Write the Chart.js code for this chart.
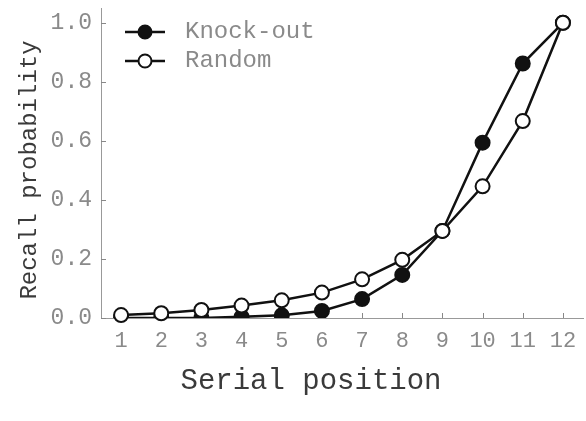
<!DOCTYPE html>
<html><head><meta charset="utf-8">
<script src="https://cdn.jsdelivr.net/npm/chart.js@4/dist/chart.umd.min.js"></script>
<style>html,body{margin:0;padding:0;background:#fff;overflow:hidden}#wrap{width:586px;height:421px}</style>
</head><body><div id="wrap"><canvas id="c"></canvas></div>
<script>
const positions = [1,2,3,4,5,6,7,8,9,10,11,12];
const knockOut = [0.0,0.0,0.0,0.004,0.009,0.024,0.064,0.146,0.295,0.594,0.862,1.0];
const random   = [0.01,0.016,0.027,0.042,0.06,0.086,0.131,0.197,0.295,0.446,0.667,1.0];
const yTicks = [0,0.2,0.4,0.6,0.8,1.0];
const seriesNames = ['Knock-out','Random'];
const xTitle = 'Serial position';
const yTitle = 'Recall probability';

const FONT = '"Liberation Mono", "DejaVu Sans Mono", monospace';
const TXT = '#8a8a8a';
const TITLE = '#3a3a3a';

const legendPlugin = {
  id:'insideLegend',
  afterDraw(chart){
    const ctx = chart.ctx;
    const ca = chart.chartArea;
    ctx.save();
    [0,1].forEach(i=>{
      const ds = chart.data.datasets[i];
      const y = 32 + i*29;
      const x0 = ca.left + 24, x1 = ca.left + 64, xm = (x0+x1)/2;
      ctx.strokeStyle = '#111'; ctx.lineWidth = 2.5;
      ctx.beginPath(); ctx.moveTo(x0,y); ctx.lineTo(x1,y); ctx.stroke();
      ctx.beginPath(); ctx.arc(xm,y,6.5,0,Math.PI*2);
      ctx.fillStyle = ds.pointBackgroundColor; ctx.fill(); ctx.lineWidth=2; ctx.stroke();
      ctx.fillStyle = TXT; ctx.font = '24px ' + FONT; ctx.textBaseline='middle'; ctx.textAlign='left';
      ctx.fillText(ds.label, ca.left + 84, y);
    });
    ctx.fillStyle = TITLE;
    ctx.font = '29px ' + FONT; ctx.textAlign='center'; ctx.textBaseline='middle';
    ctx.fillText(xTitle, 311, 381);
    ctx.translate(30, 170); ctx.rotate(-Math.PI/2);
    ctx.font = '24px ' + FONT;
    ctx.fillText(yTitle, 0, 0);
    ctx.restore();
  }
};
const innerTicks = {
  id:'innerTicks',
  beforeDatasetsDraw(chart){
    const ctx = chart.ctx, xs = chart.scales.x, ys = chart.scales.y, ca = chart.chartArea;
    ctx.save(); ctx.strokeStyle = '#888'; ctx.lineWidth = 1;
    positions.forEach(p=>{ const x = Math.round(xs.getPixelForValue(p))+0.5; ctx.beginPath(); ctx.moveTo(x,ca.bottom); ctx.lineTo(x,ca.bottom-5); ctx.stroke(); });
    yTicks.forEach(v=>{ const y = Math.round(ys.getPixelForValue(v))+0.5; ctx.beginPath(); ctx.moveTo(ca.left,y); ctx.lineTo(ca.left+5,y); ctx.stroke(); });
    ctx.restore();
  }
};

new Chart(document.getElementById('c'), {
  type:'line',
  data:{ datasets:[
    {label:seriesNames[0], data:positions.map((p,i)=>({x:p,y:knockOut[i]})), borderColor:'#111', borderWidth:2.5, order:1,
     pointRadius:7, pointBackgroundColor:'#111', pointBorderColor:'#111', pointBorderWidth:2, clip:{left:10,top:10,right:10,bottom:0}},
    {label:seriesNames[1], data:positions.map((p,i)=>({x:p,y:random[i]})), borderColor:'#111', borderWidth:2.5, order:0,
     pointRadius:7, pointBackgroundColor:'#fff', pointBorderColor:'#111', pointBorderWidth:2, clip:{left:10,top:10,right:10,bottom:10}}
  ]},
  options:{
    responsive:true, maintainAspectRatio:false, animation:false,
    layout:{autoPadding:false, padding:{top:8,right:3,left:0,bottom:0}},
    plugins:{legend:{display:false}, tooltip:{enabled:false}},
    scales:{
      x:{type:'linear', min:0.5, max:12.5,
         afterBuildTicks(s){ s.ticks = positions.map(v=>({value:v})); },
         afterFit(s){ s.height = 103; s.paddingLeft = 0; s.paddingRight = 0; },
         grid:{display:false, drawTicks:false},
         border:{color:'#999', width:1},
         ticks:{color:TXT, font:{family:FONT, size:22}, padding:10, autoSkip:false, maxRotation:0}
      },
      y:{min:0, max:1.05,
         afterBuildTicks(s){ s.ticks = yTicks.map(v=>({value:v})); },
         afterFit(s){ s.width = 101; s.paddingTop = 0; s.paddingBottom = 0; },
         grid:{display:false, drawTicks:false},
         border:{color:'#999', width:1},
         ticks:{color:TXT, font:{family:FONT, size:23}, padding:9, callback:v=>v.toFixed(1)}
      }
    }
  },
  plugins:[legendPlugin, innerTicks]
});
</script></body></html>
